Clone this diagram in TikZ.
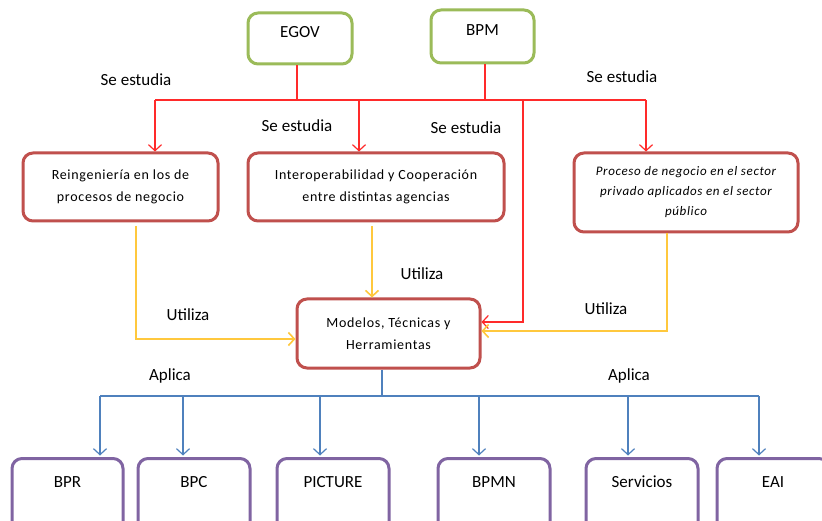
\documentclass[tikz,border=0pt]{standalone}
\usepackage{fontspec}
\setmainfont{Carlito}
\newfontfamily\boxfont[LetterSpace=5]{Carlito}
\usetikzlibrary{arrows.meta,calc}
\definecolor{gborder}{HTML}{9BBB59}
\definecolor{rborder}{HTML}{C0504D}
\definecolor{pborder}{HTML}{8064A2}
\definecolor{bline}{HTML}{4F81BD}
\definecolor{yline}{HTML}{FFC83D}
\definecolor{rline}{HTML}{FF2A2A}
\tikzset{
  base/.style={draw, line width=3pt, rounded corners=10pt, fill=white, align=center},
  gbox/.style={base, draw=gborder, font=\fontsize{17}{20}\selectfont, text height=12pt, text depth=13pt},
  rbox/.style={base, draw=rborder, font=\boxfont\fontsize{14}{22}\selectfont},
  pbox/.style={base, draw=pborder, anchor=north, minimum width=111pt, inner ysep=0pt,
     text height=29pt, text depth=47pt, font=\fontsize{17}{20}\selectfont},
  lbl/.style={font=\fontsize{17}{20}\selectfont, inner sep=0pt},
  arr/.style={-{Straight Barb[length=6pt,width=13pt]}},
  redl/.style={draw=rline, line width=1.2pt},
  yell/.style={draw=yline, line width=1.6pt},
  bluel/.style={draw=bline, line width=1.2pt},
}
\begin{document}
\begin{tikzpicture}[x=1pt,y=-1pt]
\useasboundingbox[fill=white] (0,0) rectangle (822,521);
% top boxes
\node[gbox, minimum width=104pt, minimum height=51pt] (egov) at (300,38.5) {EGOV};
\node[gbox, minimum width=103pt, minimum height=53pt, text depth=14pt] (bpm) at (482.5,36.5) {BPM};
% middle boxes
\node[rbox, minimum width=195pt, minimum height=68pt] (reing) at (120.5,187) {Reingeniería en los de\\procesos de negocio};
\node[rbox, minimum width=256pt, minimum height=68pt] (interop) at (376,187) {Interoperabilidad y Cooperación\\entre distintas agencias};
\node[rbox, minimum width=224pt, minimum height=79pt, font=\boxfont\fontsize{13}{20}\selectfont\itshape] (proceso) at (686,192.5) {Proceso de negocio en el sector\\privado aplicados en el sector\\público};
\node[rbox, minimum width=183pt, minimum height=69pt] (modelos) at (388.5,333.5) {Modelos, Técnicas y\\Herramientas};
% bottom boxes
\node[pbox] (bpr) at (67.5,457) {BPR};
\node[pbox, minimum width=112pt] (bpc) at (194,457) {BPC};
\node[pbox, minimum width=112pt] (picture) at (333,457) {PICTURE};
\node[pbox, minimum width=112pt] (bpmn) at (494,457) {BPMN};
\node[pbox, minimum width=112pt] (servicios) at (642,457) {Servicios};
\node[pbox, minimum width=112pt] (eai) at (773,457) {EAI};
% labels
\node[lbl] (l1) at (136,80) {Se estudia};
\node[lbl] (l2) at (297,126) {Se estudia};
\node[lbl] (l3) at (466,128) {Se estudia};
\node[lbl] (l4) at (622,77) {Se estudia};
\node[lbl] (u1) at (188,315) {Utiliza};
\node[lbl] (u2) at (422,274) {Utiliza};
\node[lbl] (u3) at (606,309) {Utiliza};
\node[lbl] (a1) at (170,376) {Aplica};
\node[lbl] (a2) at (629,376) {Aplica};
% red connectors
\coordinate (ra) at (155,100);
\coordinate (rb) at (359,100);
\coordinate (rc) at (523,100);
\coordinate (rd) at (646,100);
\draw[redl] (ra) -- (rd);
\draw[redl] (egov.south -| 297,0) -- (297,100);
\draw[redl] (bpm.south -| 485,0) -- (485,100);
\draw[redl,arr] (ra) -- (ra |- reing.north);
\draw[redl,arr] (rb) -- (rb |- interop.north);
\draw[redl,arr] (rd) -- (rd |- proceso.north);
\draw[redl,arr] (rc) |- ($(modelos.east)+(0,-11.5)$);
% yellow connectors
\coordinate (ya) at (136,226);
\coordinate (yb) at (372,226);
\coordinate (yc) at (667,233);
\draw[yell,arr] (ya) |- ($(modelos.west)+(0,5.5)$);
\draw[yell,arr] (yb) -- (yb |- modelos.north);
\draw[yell,arr] (yc) |- ($(modelos.east)+(0,-2.5)$);
% blue connectors
\coordinate (bm) at (382,396);
\coordinate (b1) at (100,396);
\coordinate (b2) at (183,396);
\coordinate (b3) at (320,396);
\coordinate (b4) at (479,396);
\coordinate (b5) at (628,396);
\coordinate (b6) at (759,396);
\draw[bluel] (bm |- modelos.south) -- (bm);
\draw[bluel] (b1) -- (b6);
\draw[bluel,arr] (b1) -- ($(b1 |- bpr.north)+(0,-1.5)$);
\draw[bluel,arr] (b2) -- ($(b2 |- bpc.north)+(0,-1.5)$);
\draw[bluel,arr] (b3) -- ($(b3 |- picture.north)+(0,-1.5)$);
\draw[bluel,arr] (b4) -- ($(b4 |- bpmn.north)+(0,-1.5)$);
\draw[bluel,arr] (b5) -- ($(b5 |- servicios.north)+(0,-1.5)$);
\draw[bluel,arr] (b6) -- ($(b6 |- eai.north)+(0,-1.5)$);
\end{tikzpicture}
\end{document}
